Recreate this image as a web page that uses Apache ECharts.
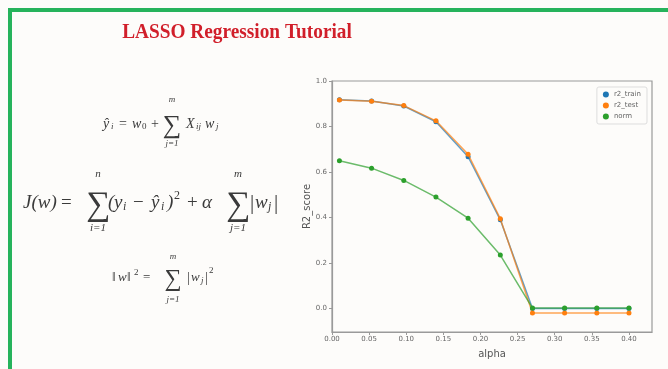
<!DOCTYPE html>
<html><head><meta charset="utf-8">
<script src="https://cdn.jsdelivr.net/npm/echarts@6/dist/echarts.min.js"></script>
<style>html,body{margin:0;padding:0;background:#ffffff}#c{width:668px;height:369px}</style>
</head><body><div id="c"></div>
<script>
const alpha = [0.01, 0.0533, 0.0967, 0.14, 0.1833, 0.2267, 0.27, 0.3133, 0.3567, 0.40];
const r2Train = [0.918, 0.912, 0.890, 0.821, 0.667, 0.390, 0.0, 0.0, 0.0, 0.0];
const r2Test = [0.916, 0.911, 0.892, 0.825, 0.678, 0.395, -0.019, -0.019, -0.019, -0.019];
const normVals = [0.650, 0.617, 0.563, 0.490, 0.397, 0.235, 0.002, 0.002, 0.002, 0.002];
const xTicks = [0, 0.05, 0.10, 0.15, 0.20, 0.25, 0.30, 0.35, 0.40];
const yTicks = [0, 0.2, 0.4, 0.6, 0.8, 1.0];
const seriesNames = ['r2_train', 'r2_test', 'norm'];
const titleText = 'LASSO Regression Tutorial';

const chart = echarts.init(document.getElementById('c'), null, {renderer: 'canvas'});
const zip = (xs, ys) => xs.map((x, i) => [x, ys[i]]);

const FC = '#3a3a3a';
const FF = '"Liberation Serif", serif';
function fontOf(size, italic) { return (italic ? 'italic ' : '') + size + 'px ' + FF; }
function t(p) {
  const [text, x, y, size, italic, align] = p;
  return {type: 'text', x: x, y: y, silent: true,
    style: {text: text, fill: FC, font: fontOf(size, italic),
      textAlign: align || 'left', textVerticalAlign: 'middle'}};
}
// formula text pieces: [text, x, y, fontSize, italic, align]
const formula1 = [
  ['ŷ', 103, 124, 14, true], ['i', 111, 127, 9, true],
  ['=', 119, 124, 14, false], ['w', 132, 124, 14, true], ['0', 142, 127, 9, false],
  ['+', 151, 124, 14, false],
  ['∑', 172, 126, 26, false, 'center'], ['m', 172, 100, 9, true, 'center'], ['j=1', 172, 144, 9, true, 'center'],
  ['X', 186, 124, 14, true], ['ij', 196, 127, 9, true], ['w', 205, 124, 14, true], ['j', 216, 127, 9, true]
];
const formula2 = [
  ['J(w)', 23, 203, 19, true], ['=', 61, 203, 19, false],
  ['∑', 98, 206, 34, false, 'center'], ['n', 98, 174, 11, true, 'center'], ['i=1', 98, 228, 11, true, 'center'],
  ['(', 108, 203, 19, true], ['y', 114, 203, 19, true], ['i', 123, 207, 12, true],
  ['−', 133, 203, 19, false], ['ŷ', 151, 203, 19, true], ['i', 161, 207, 12, true],
  [')', 167, 203, 19, true], ['2', 174, 196, 12, false],
  ['+', 187, 203, 19, false], ['α', 202, 203, 19, true],
  ['∑', 238, 206, 34, false, 'center'], ['m', 238, 174, 11, true, 'center'], ['j=1', 238, 228, 11, true, 'center'],
  ['|', 250, 203, 21, false], ['w', 255, 203, 19, true], ['j', 268, 207, 12, true], ['|', 274, 203, 21, false]
];
const formula3 = [
  ['‖', 112, 278, 13, false], ['w', 118, 278, 13, true], ['‖', 127, 278, 13, false],
  ['2', 134, 273, 9, false], ['=', 143, 278, 13, false],
  ['∑', 173, 280, 24, false, 'center'], ['m', 173, 257, 9, true, 'center'], ['j=1', 173, 300, 9, true, 'center'],
  ['|', 187, 278, 14, false], ['w', 191, 278, 13, true], ['j', 201, 281, 9, true], ['|', 205, 278, 14, false],
  ['2', 209, 271, 9, false]
];

const g = [];
g.push({type: 'rect', shape: {x: 8, y: 8, width: 670, height: 4}, style: {fill: '#26b35c'}, silent: true});
g.push({type: 'rect', shape: {x: 8, y: 8, width: 4, height: 370}, style: {fill: '#26b35c'}, silent: true});
g.push({type: 'text', x: 237, y: 33, scaleX: 0.92, silent: true,
  style: {text: titleText, fill: '#d11f2a', font: 'bold 21px ' + FF, textAlign: 'center', textVerticalAlign: 'middle'}});
formula1.concat(formula2, formula3).forEach(p => g.push(t(p)));

const colors = ['#1f77b4', '#ff7f0e', '#2ca02c'];
const vals = [r2Train, r2Test, normVals];

chart.setOption({
  backgroundColor: '#fdfcfa',
  animation: false,
  graphic: g,
  legend: {
    data: seriesNames, orient: 'vertical', right: 21, top: 87,
    itemWidth: 6, itemHeight: 6, itemGap: 4, padding: [4, 6, 4, 6],
    borderColor: '#dddddd', borderWidth: 1, borderRadius: 2,
    icon: 'circle',
    textStyle: {fontSize: 7, color: '#666', fontFamily: '"DejaVu Sans", sans-serif'}
  },
  grid: {left: 332, right: 16, top: 81, bottom: 37, containLabel: false,
    show: true, borderColor: '#9a9a9a', borderWidth: 1.2, backgroundColor: 'transparent'},
  xAxis: {
    type: 'value', min: 0, max: 0.431,
    name: 'alpha', nameLocation: 'middle', nameGap: 17,
    nameTextStyle: {fontSize: 10, color: '#555', fontFamily: '"DejaVu Sans", sans-serif'},
    axisLine: {show: true, onZero: false, lineStyle: {color: '#9a9a9a', width: 1.2}},
    axisTick: {show: true, customValues: xTicks, length: 3, lineStyle: {color: '#999'}},
    axisLabel: {customValues: xTicks, fontSize: 7, color: '#666', margin: 4,
      fontFamily: '"DejaVu Sans", sans-serif', formatter: v => v.toFixed(2)},
    splitLine: {show: false}
  },
  yAxis: {
    type: 'value', min: -0.103, max: 1.0,
    name: 'R2_score', nameLocation: 'middle', nameGap: 20,
    nameTextStyle: {fontSize: 10, color: '#555', fontFamily: '"DejaVu Sans", sans-serif'},
    axisLine: {show: true, onZero: false, lineStyle: {color: '#9a9a9a', width: 1.2}},
    axisTick: {show: true, customValues: yTicks, length: 3, lineStyle: {color: '#999'}},
    axisLabel: {customValues: yTicks, fontSize: 7, color: '#666', margin: 5,
      fontFamily: '"DejaVu Sans", sans-serif', formatter: v => v.toFixed(1)},
    splitLine: {show: false}
  },
  series: seriesNames.map((n, i) => ({
    name: n, type: 'line', data: zip(alpha, vals[i]),
    symbol: 'circle', symbolSize: 5, z: 2 + i,
    itemStyle: {color: colors[i]},
    lineStyle: {color: colors[i], width: 1.5, opacity: 0.7}
  }))
});
</script></body></html>
